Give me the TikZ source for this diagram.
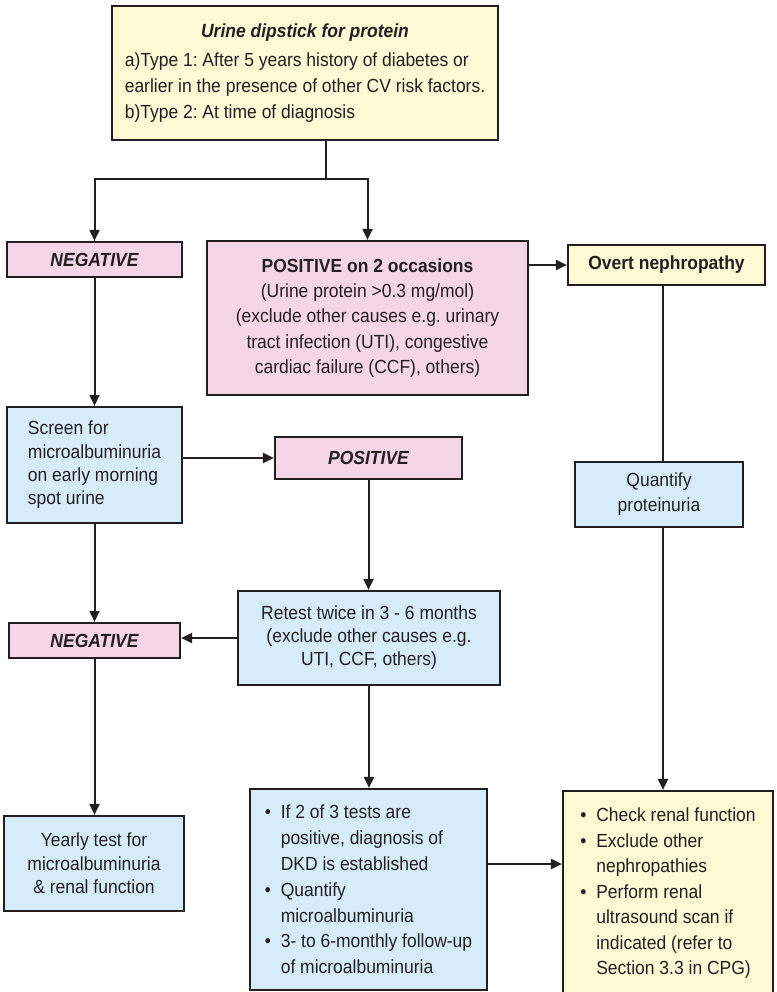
\documentclass[tikz,border=0pt]{standalone}
\usepackage{fontspec}
\setmainfont{Liberation Sans}[FakeStretch=0.92]
\usetikzlibrary{arrows.meta}
\definecolor{byel}{RGB}{252,249,212}
\definecolor{bpink}{RGB}{245,214,230}
\definecolor{bblue}{RGB}{214,237,249}
\definecolor{ink}{RGB}{35,31,32}
\newcommand{\bl}{\makebox[16pt][l]{\textbullet}}
\newcommand{\ind}{\hspace*{16pt}}
\frenchspacing
\begin{document}
\frenchspacing
\begin{tikzpicture}[x=1pt,y=-1pt,
  box/.style={draw=ink, line width=2.2pt, inner sep=0pt, text=ink,
    font=\fontsize{19}{25}\selectfont},
  lsp/.style={font=\fontsize{19}{#1}\selectfont},
  yel/.style={box, fill=byel},
  pnk/.style={box, fill=bpink},
  blu/.style={box, fill=bblue},
  ln/.style={draw=ink, line width=2pt},
  arr/.style={ln, -{Triangle[length=11pt,width=10pt]}}]
\useasboundingbox (0,0) rectangle (776,992);

% nodes
\node[yel, lsp=26, minimum width=386pt, minimum height=134pt] (top) at (305,73)
 {\begin{tabular}{@{}l@{}}
  \multicolumn{1}{@{}c@{}}{\bfseries\itshape Urine dipstick for protein}\\[3pt]
  a)Type 1: After 5 years history of diabetes or\\
  earlier in the presence of other CV risk factors.\\
  b)Type 2: At time of diagnosis
  \end{tabular}};
\node[pnk, minimum width=175pt, minimum height=35pt] (neg1) at (94.5,259.5)
 {\bfseries\itshape NEGATIVE};
\node[pnk, lsp=25.3, align=center, minimum width=321pt, minimum height=154pt] (pos1) at (367.5,318)
 {{\bfseries POSITIVE on 2 occasions}\\(Urine protein >0.3 mg/mol)\\(exclude other causes e.g. urinary\\tract infection (UTI), congestive\\cardiac failure (CCF), others)};
\node[yel, minimum width=197pt, minimum height=40pt] (overt) at (666.5,265)
 {\bfseries Overt nephropathy};
\node[blu, lsp=23.3, align=left, minimum width=175pt, minimum height=116pt] (screen) at (94.5,465)
 {Screen for\\microalbuminuria\\on early morning\\spot urine};
\node[pnk, minimum width=187pt, minimum height=42pt] (pos2) at (368.5,458)
 {\bfseries\itshape POSITIVE};
\node[blu, lsp=25, align=center, minimum width=168pt, minimum height=65pt] (quant) at (659,494.5)
 {Quantify\\proteinuria};
\node[blu, lsp=23, align=center, minimum width=262pt, minimum height=94pt] (retest) at (369,638)
 {Retest twice in 3 - 6 months\\(exclude other causes e.g.\\UTI, CCF, others)};
\node[pnk, minimum width=171pt, minimum height=35pt] (neg2) at (94.5,640.5)
 {\bfseries\itshape NEGATIVE};
\node[blu, lsp=23.5, align=center, minimum width=180pt, minimum height=95pt] (yearly) at (94,863.5)
 {Yearly test for\\microalbuminuria\\\& renal function};
\node[blu, lsp=25.8, align=left, minimum width=237pt, minimum height=201pt] (bul) at (368.5,889.5)
 {\bl If 2 of 3 tests are\\\ind positive, diagnosis of\\\ind DKD is established\\\bl Quantify\\\ind microalbuminuria\\\bl 3- to 6-monthly follow-up\\\ind of microalbuminuria};
\node[yel, lsp=25.5, align=left, minimum width=210pt, minimum height=205pt] (right) at (668,893.5)
 {\bl Check renal function\\\bl Exclude other\\\ind nephropathies\\\bl Perform renal\\\ind ultrasound scan if\\\ind indicated (refer to\\\ind Section 3.3 in CPG)};

% connectors
\coordinate (jn) at (326,179);
\draw[ln] (top.south -| jn) -- (jn);
\draw[arr] (jn) -| (neg1.north);
\draw[arr] (jn) -| (pos1.north);
\draw[arr] (pos1.east |- overt.west) -- (overt.west);
\coordinate (xr) at (663,300);
\draw[ln] (overt.south -| xr) -- (quant.north -| xr);
\draw[arr] (quant.south -| xr) -- (right.north -| xr);
\draw[arr] (neg1.south) -- (neg1.south |- screen.north);
\draw[arr] (screen.east |- pos2.west) -- (pos2.west);
\draw[arr] (pos2.south) -- (pos2.south |- retest.north);
\draw[arr] (retest.west) -- (retest.west -| neg2.east);
\draw[arr] (screen.south) -- (screen.south |- neg2.north);
\draw[arr] (neg2.south) -- (neg2.south |- yearly.north);
\draw[arr] (retest.south) -- (retest.south |- bul.north);
\coordinate (yr) at (500,864);
\draw[arr] (bul.east |- yr) -- (right.west |- yr);
\end{tikzpicture}
\end{document}
